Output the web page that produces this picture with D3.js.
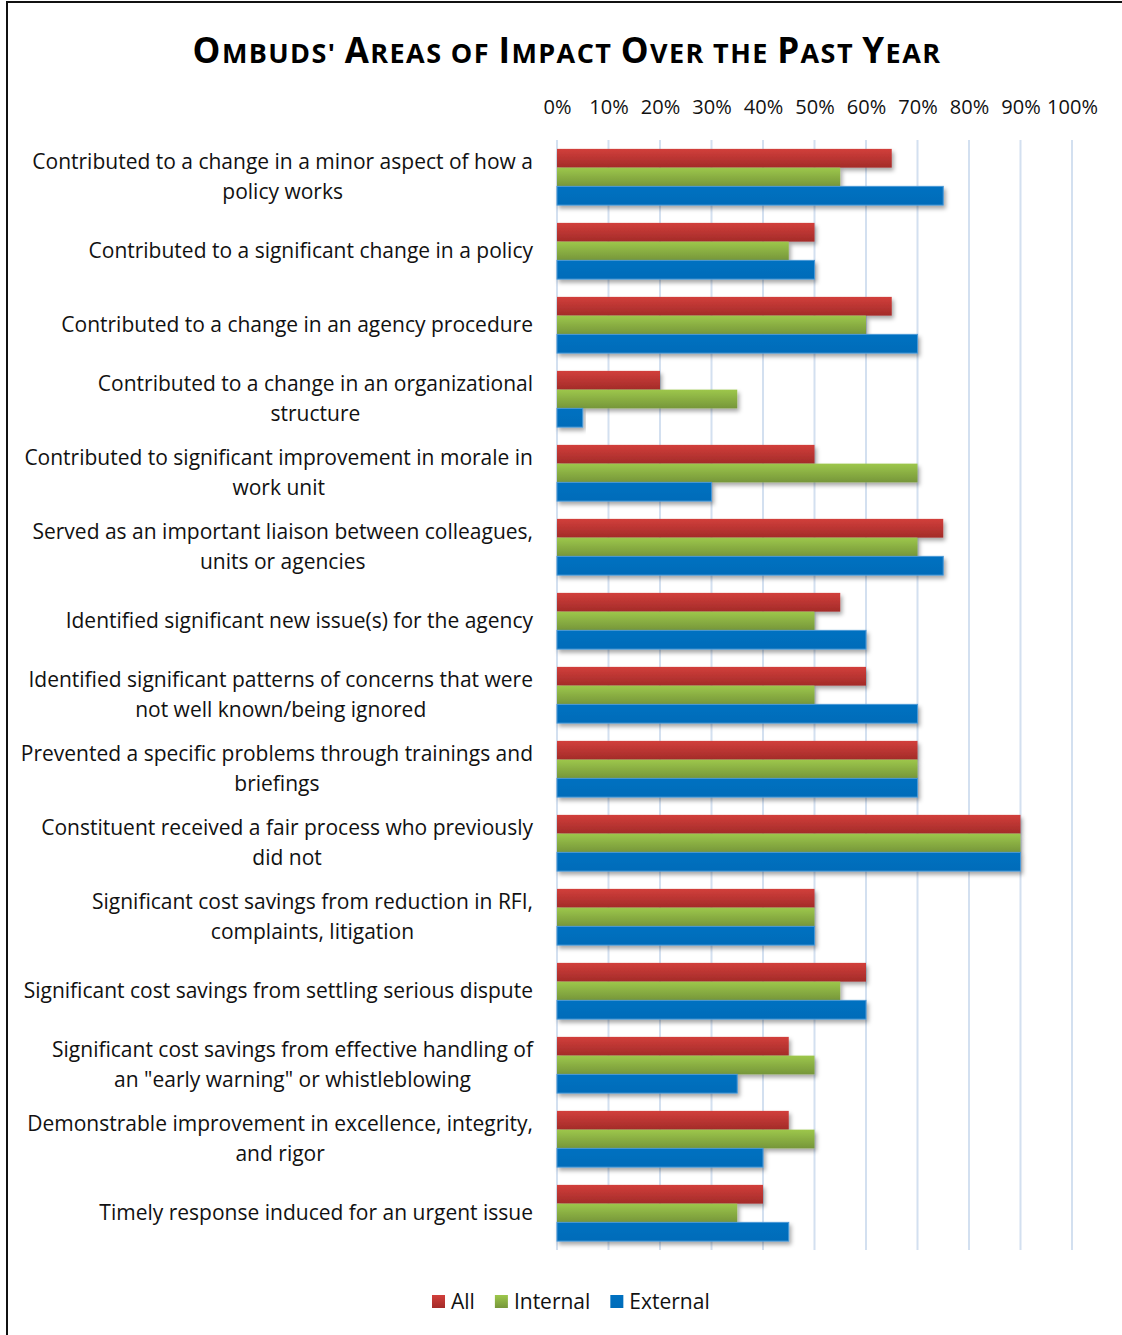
<!DOCTYPE html>
<html>
<head>
<meta charset="utf-8">
<script src="https://cdn.jsdelivr.net/npm/d3@7"></script>
<style>
  body { margin: 0; background: #fff; }
  svg { display: block; font-family: "Open Sans", sans-serif; }
</style>
</head>
<body>
<div id="chart"></div>
<script>
// categories (line breaks as in the original wrapped labels)
const categories = [
  "Contributed to a change in a minor aspect of how a\npolicy works",
  "Contributed to a significant change in a policy",
  "Contributed to a change in an agency procedure",
  "Contributed to a change in an organizational\nstructure",
  "Contributed to significant improvement in morale in\nwork unit",
  "Served as an important liaison between colleagues,\nunits or agencies",
  "Identified significant new issue(s) for the agency",
  "Identified significant patterns of concerns that were\nnot well known/being ignored",
  "Prevented a specific problems through trainings and\nbriefings",
  "Constituent received a fair process who previously\ndid not",
  "Significant cost savings from reduction in RFI,\ncomplaints, litigation",
  "Significant cost savings from settling serious dispute",
  "Significant cost savings from effective handling of\nan \"early warning\" or whistleblowing",
  "Demonstrable improvement in excellence, integrity,\nand rigor",
  "Timely response induced for an urgent issue"
];

const series = ["All", "Internal", "External"];
const allValues      = [65, 50, 65, 20, 50, 75, 55, 60, 70, 90, 50, 60, 45, 45, 40];
const internalValues = [55, 45, 60, 35, 70, 70, 50, 50, 70, 90, 50, 55, 50, 50, 35];
const externalValues = [75, 50, 70,  5, 30, 75, 60, 70, 70, 90, 50, 60, 35, 40, 45];
const tickValues = [0, 10, 20, 30, 40, 50, 60, 70, 80, 90, 100];

const title = "Ombuds' Areas of Impact Over the Past Year";

const width = 1122, height = 1335;
const rows = categories.map((c, i) => ({
  label: c,
  values: [allValues[i], internalValues[i], externalValues[i]]
}));

const svg = d3.select("#chart").append("svg")
    .attr("width", width)
    .attr("height", height);

const defs = svg.append("defs");
const grads = [
  {id: "g-all", top: "#d23f3b", bottom: "#a32b29"},
  {id: "g-int", top: "#9dc74b", bottom: "#76963a"},
  {id: "g-ext", top: "#0071c1", bottom: "#006cb9"}
];
grads.forEach(g => {
  const lg = defs.append("linearGradient").attr("id", g.id)
      .attr("x1", 0).attr("y1", 0).attr("x2", 0).attr("y2", 1);
  lg.append("stop").attr("offset", "0%").attr("stop-color", g.top);
  lg.append("stop").attr("offset", "100%").attr("stop-color", g.bottom);
});
defs.append("filter").attr("id", "shadow")
    .attr("x", "-5%").attr("y", "-20%").attr("width", "115%").attr("height", "170%")
  .append("feDropShadow")
    .attr("dx", 2).attr("dy", 3).attr("stdDeviation", 2)
    .attr("flood-color", "#000").attr("flood-opacity", 0.35);

// frame
svg.append("rect")
    .attr("x", 7).attr("y", 2)
    .attr("width", width + 20).attr("height", height + 20)
    .attr("fill", "none").attr("stroke", "#111").attr("stroke-width", 2);

// title in small caps
const titleText = svg.append("text")
    .attr("x", 567).attr("y", 63)
    .attr("text-anchor", "middle")
    .attr("font-weight", "bold")
    .attr("letter-spacing", 1.4)
    .attr("fill", "#000");
for (const ch of title) {
  const upper = ch !== ch.toLowerCase();
  titleText.append("tspan")
      .attr("font-size", upper ? 35 : 27)
      .text(ch.toUpperCase());
}

const x = d3.scaleLinear().domain([0, 100]).range([557, 1072]);
const y = d3.scaleBand().domain(d3.range(categories.length))
    .range([140, 1250]).paddingInner(0.24).paddingOuter(0.12);
const ySub = d3.scaleBand().domain(d3.range(series.length)).range([0, y.bandwidth()]);

// gridlines
svg.append("g")
    .selectAll("line")
    .data(tickValues)
    .join("line")
    .attr("x1", d => x(d)).attr("x2", d => x(d))
    .attr("y1", 140).attr("y2", 1250)
    .attr("stroke", "#d3e0f0").attr("stroke-width", 2);

// top axis
const axis = svg.append("g")
    .attr("transform", "translate(0,117)")
    .call(d3.axisTop(x).tickValues(tickValues).tickFormat(d => d + "%").tickSize(0));
axis.select(".domain").remove();
axis.selectAll("text").attr("font-size", 20).attr("fill", "#111")
    .attr("font-family", "'Open Sans', sans-serif");

// bars
const groups = svg.append("g")
    .selectAll("g")
    .data(rows)
    .join("g")
    .attr("transform", (d, i) => `translate(0,${y(i)})`);

groups.selectAll("rect")
    .data(d => d.values)
    .join("rect")
    .attr("x", x(0))
    .attr("y", (d, j) => ySub(j))
    .attr("width", d => x(d) - x(0))
    .attr("height", ySub.bandwidth())
    .attr("fill", (d, j) => `url(#${grads[j].id})`)
    .attr("stroke", (d, j) => j === 2 ? "#4a98d6" : "none")
    .attr("stroke-width", 1)
    .attr("filter", "url(#shadow)");

// category labels: block right-aligned, lines centered within block
const labelRight = 533;
const labels = svg.append("g")
    .selectAll("text")
    .data(rows)
    .join("text")
    .attr("font-size", 21)
    .attr("fill", "#111")
    .attr("text-anchor", "middle");

labels.each(function(d, i) {
  const lines = d.label.split("\n");
  const t = d3.select(this);
  const cy = y(i) + y.bandwidth() / 2;
  const spans = lines.map((line, k) => t.append("tspan")
      .attr("y", cy + (k - (lines.length - 1) / 2) * 30)
      .attr("dy", "0.35em")
      .text(line));
  const w = d3.max(spans, s => s.node().getComputedTextLength());
  spans.forEach(s => s.attr("x", labelRight - w / 2));
});

// legend
const legend = svg.append("g").attr("transform", "translate(432,1302)");
let lx = 0;
series.forEach((s, j) => {
  legend.append("rect")
      .attr("x", lx).attr("y", -7)
      .attr("width", 13).attr("height", 13)
      .attr("fill", `url(#${grads[j].id})`);
  const tx = legend.append("text")
      .attr("x", lx + 19).attr("y", 0).attr("dy", "0.35em")
      .attr("font-size", 21).attr("fill", "#111")
      .text(s);
  lx += 19 + tx.node().getComputedTextLength() + 20;
});
</script>
</body>
</html>
